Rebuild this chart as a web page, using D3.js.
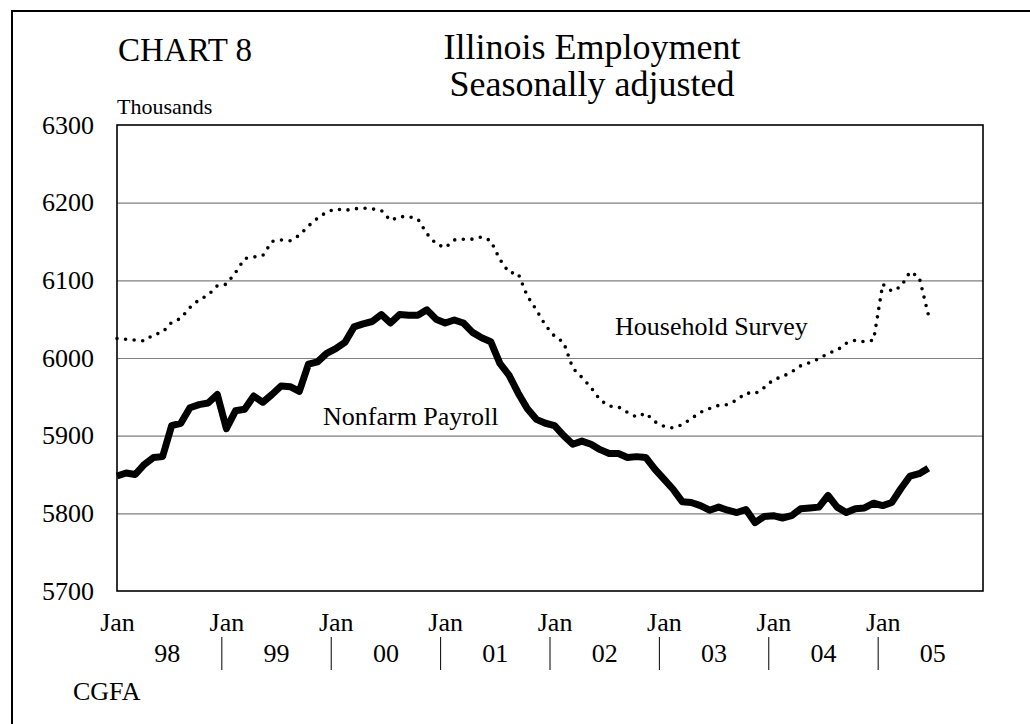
<!DOCTYPE html>
<html>
<head>
<meta charset="utf-8">
<script src="https://cdn.jsdelivr.net/npm/d3@7"></script>
<style>
  html, body { margin: 0; padding: 0; background: #fff; }
  svg { display: block; }
  text { font-family: "Liberation Serif", "Times New Roman", serif; fill: #000; }
</style>
</head>
<body>
<svg id="chart" width="1030" height="724"></svg>
<script>
// ---- Data (monthly, Jan 1998 .. Jun 2005), thousands ----
const startYear = 1998;
const nonfarmPayroll = [
  5848, 5852, 5850, 5863, 5872, 5873, 5913, 5916, 5936, 5940, 5942, 5953,
  5909, 5932, 5934, 5951, 5943, 5953, 5964, 5963, 5957, 5992, 5995, 6006,
  6012, 6020, 6040, 6044, 6047, 6056, 6045, 6056, 6055, 6055, 6062, 6050,
  6045, 6049, 6045, 6033, 6026, 6021, 5993, 5978, 5955, 5935, 5921, 5916,
  5913, 5900, 5889, 5893, 5889, 5882, 5877, 5877, 5872, 5873, 5872, 5857,
  5844, 5831, 5815, 5814, 5810, 5804, 5808, 5804, 5801, 5805, 5788, 5796,
  5797, 5794, 5797, 5806, 5807, 5808, 5823, 5808, 5801, 5806, 5807, 5813,
  5810, 5814, 5832, 5848, 5851, 5858
];
const householdSurvey = [
  6025, 6024, 6023, 6022, 6030, 6033, 6046, 6051, 6065, 6075, 6081, 6093,
  6095, 6110, 6128, 6130, 6132, 6150, 6152, 6151, 6158, 6170, 6180, 6188,
  6192, 6190, 6192, 6193, 6192, 6190, 6177, 6182, 6182, 6179, 6160, 6147,
  6142, 6152, 6153, 6153, 6156, 6151, 6127, 6110, 6109, 6080, 6062, 6042,
  6028, 6020, 5987, 5975, 5962, 5946, 5938, 5937, 5930, 5924, 5929, 5918,
  5912, 5910, 5914, 5922, 5930, 5935, 5939, 5940, 5946, 5955, 5954, 5962,
  5972, 5976, 5982, 5990, 5994, 5999, 6006, 6010, 6019, 6023, 6021, 6023,
  6095, 6086, 6092, 6111, 6104, 6056
];
const yTicks = [5700, 5800, 5900, 6000, 6100, 6200, 6300];
const gridValues = [5800, 5900, 6000, 6100, 6200];
const yearLabels = ["98", "99", "00", "01", "02", "03", "04", "05"];
const monthTickLabel = "Jan";
const seriesLabels = ["Nonfarm Payroll", "Household Survey"];

// ---- Layout ----
const svg = d3.select("#chart");
const L = 117, R = 983, T = 125, B = 591;

const x = d3.scaleLinear().domain([0, 95]).range([L, R]);
const y = d3.scaleLinear().domain([5700, 6300]).range([B, T]);

// outer frame
svg.append("rect")
  .attr("x", 12).attr("y", 11).attr("width", 1040).attr("height", 740)
  .attr("fill", "none").attr("stroke", "#000").attr("stroke-width", 2);

// gridlines
svg.append("g")
  .attr("transform", `translate(${L},0)`)
  .call(d3.axisLeft(y).tickValues(gridValues).tickSize(-(R - L)).tickFormat(""))
  .call(g => g.select(".domain").remove())
  .call(g => g.selectAll("line").attr("stroke", "#808080").attr("stroke-width", 1.2));

// plot frame
svg.append("rect")
  .attr("x", L).attr("y", T).attr("width", R - L).attr("height", B - T)
  .attr("fill", "none").attr("stroke", "#000").attr("stroke-width", 1.6);

// y tick labels
svg.append("g")
  .attr("transform", `translate(94,0)`)
  .call(d3.axisLeft(y).tickValues(yTicks).tickSize(0).tickPadding(0).tickFormat(d3.format("d")))
  .call(g => g.select(".domain").remove())
  .call(g => g.selectAll("text").attr("font-size", 26)
    .style("font-family", '"Liberation Serif", serif').attr("fill", "#000"));

// x month labels
const janIdx = d3.range(0, 96, 12);
svg.append("g")
  .attr("transform", `translate(0,${B})`)
  .call(d3.axisBottom(x).tickValues(janIdx).tickSize(0).tickPadding(22).tickFormat(() => monthTickLabel))
  .call(g => g.select(".domain").remove())
  .call(g => g.selectAll("text").attr("font-size", 26)
    .style("font-family", '"Liberation Serif", serif').attr("fill", "#000"));

// year labels + separators
const yearG = svg.append("g");
yearG.selectAll("text.year").data(yearLabels).enter().append("text")
  .attr("class", "year")
  .attr("x", (d, i) => x(i * 12 + 5.5))
  .attr("y", 662)
  .attr("text-anchor", "middle")
  .attr("font-size", 26)
  .text(d => d);
yearG.selectAll("line.sep").data(d3.range(1, yearLabels.length)).enter().append("line")
  .attr("class", "sep")
  .attr("x1", d => x(d * 12 - 0.5)).attr("x2", d => x(d * 12 - 0.5))
  .attr("y1", 637).attr("y2", 670)
  .attr("stroke", "#000").attr("stroke-width", 1);

// lines
const line = d3.line().x((d, i) => x(i)).y(d => y(d));
svg.append("path")
  .datum(householdSurvey)
  .attr("d", line)
  .attr("fill", "none").attr("stroke", "#000")
  .attr("stroke-width", 3.6).attr("stroke-linecap", "round")
  .attr("stroke-dasharray", "0 8.6");
svg.append("path")
  .datum(nonfarmPayroll)
  .attr("d", line)
  .attr("fill", "none").attr("stroke", "#000")
  .attr("stroke-width", 7).attr("stroke-linejoin", "round");

// series labels
svg.append("text").attr("x", 323).attr("y", 425).attr("font-size", 26).text(seriesLabels[0]);
svg.append("text").attr("x", 615).attr("y", 335).attr("font-size", 26).text(seriesLabels[1]);

// titles
svg.append("text").attr("x", 118).attr("y", 61).attr("font-size", 33).text("CHART 8");
svg.append("text").attr("x", 592).attr("y", 59).attr("font-size", 36).attr("text-anchor", "middle").text("Illinois Employment");
svg.append("text").attr("x", 592).attr("y", 96).attr("font-size", 36).attr("text-anchor", "middle").text("Seasonally adjusted");
svg.append("text").attr("x", 117).attr("y", 114).attr("font-size", 22).text("Thousands");
svg.append("text").attr("x", 73).attr("y", 700).attr("font-size", 26).text("CGFA");
</script>
</body>
</html>
